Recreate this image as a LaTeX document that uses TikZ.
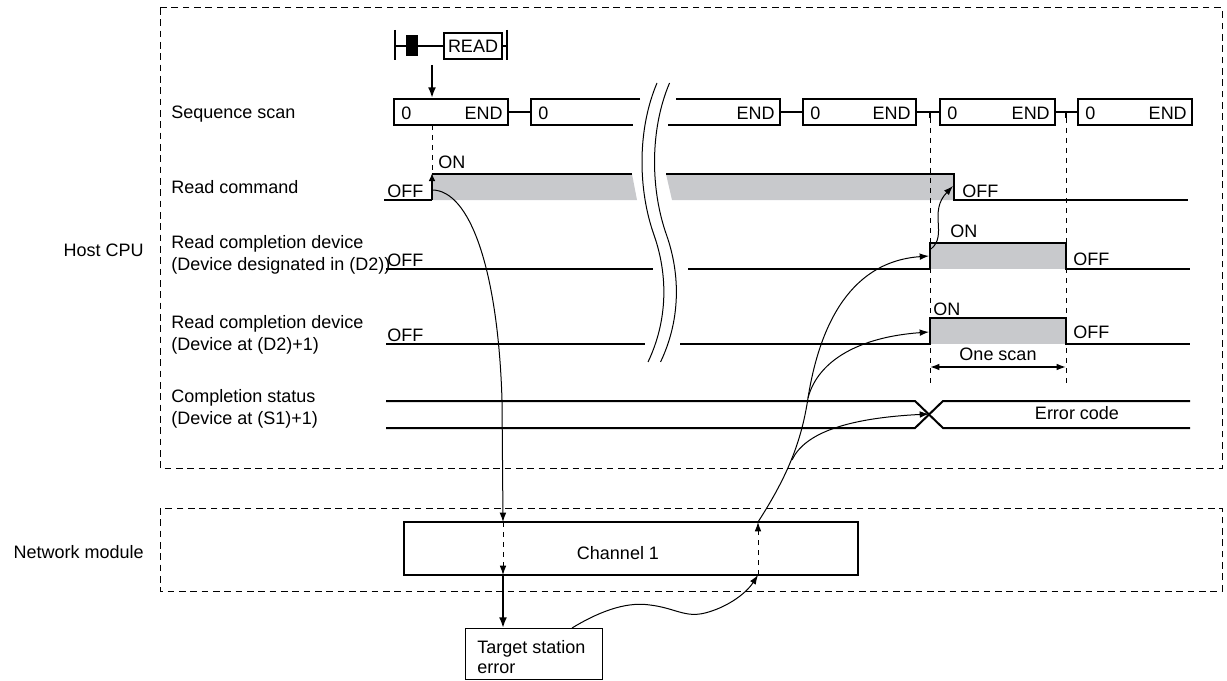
\documentclass[tikz,border=0pt]{standalone}
\usepackage{fontspec}
\setmainfont{Liberation Sans}
\usepackage{tikz}
\usetikzlibrary{arrows.meta,positioning}

\definecolor{sigfill}{RGB}{200,201,204}

\tikzset{
  lbl/.style={font=\fontsize{13.5}{16}\selectfont, inner sep=0pt},
  frame/.style={line width=0.75pt, dash pattern=on 5pt off 3.5pt},
  guide/.style={line width=0.75pt, dash pattern=on 4pt off 3.5pt},
  sig/.style={line width=1.5pt},
  scan/.style={line width=1pt},
  flow/.style={line width=0.75pt, -{Latex[length=7pt,width=5pt]}},
  boldflow/.style={line width=1.5pt, -{Latex[length=8pt,width=6pt]}},
}

\begin{document}
\begin{tikzpicture}[x=0.75pt,y=-0.75pt]
    \useasboundingbox (0,0) rectangle (1227,681);

    % dashed frames
    \draw[frame] (160,8) rectangle (1222,468);
    \draw[frame] (160,508) rectangle (1222,591);

    \node[lbl, anchor=base east] (host) at (144,256) {Host CPU};
    \node[lbl, anchor=base east] (netmod) at (144,558) {Network module};

    % row labels
    \node[lbl, anchor=base west] (seqlbl) at (171,119) {Sequence scan};
    \node[lbl, anchor=base west] (rclbl) at (171,194) {Read command};
    \node[lbl, anchor=base west] (dtwoa) at (171,248) {Read completion device};
    \node[lbl, anchor=base west] (dtwob) at (171,270) {(Device designated in (D2))};
    \node[lbl, anchor=base west] (dthreea) at (171,328) {Read completion device};
    \node[lbl, anchor=base west] (dthreeb) at (171,350) {(Device at (D2)+1)};
    \node[lbl, anchor=base west] (csa) at (171,402) {Completion status};
    \node[lbl, anchor=base west] (csb) at (171,424) {(Device at (S1)+1)};

    % ladder
    \draw[line width=1.2pt] (395,30) -- (395,60);
    \draw[line width=1.2pt] (507,30) -- (507,60);
    \fill (406,35) rectangle (418,56);
    \node[draw, lbl, line width=1pt, minimum width=43.5pt, minimum height=19.5pt] (readbox) at (473,46) {READ};
    \draw[line width=1.2pt] (395,46) -- (406,46);
    \draw[line width=1.2pt] (418,46) -- (readbox.west);
    \draw[line width=1.2pt] (readbox.east) -- (507,46);
    \coordinate (ladout) at (432,65);
    \coordinate (scanin) at (432,98);
    \draw[boldflow] (ladout) -- (scanin);

    % sequence scan
    \foreach \l/\r/\n in {394/508/a, 803/916/d, 940/1055/e, 1078/1192/f} {
        \draw[scan] (\l,99) rectangle (\r,125);
        \node[lbl, anchor=base west] (zero\n) at (\l+7,120) {0};
        \node[lbl, anchor=base east] (end\n) at (\r-5,120) {END};
    }
    \draw[scan] (640,99) -- (531,99) -- (531,125) -- (633,125);
    \node[lbl, anchor=base west] (zerob) at (538,120) {0};
    \draw[scan] (676,99) -- (780,99) -- (780,125) -- (668,125);
    \node[lbl, anchor=base east] (endc) at (775,120) {END};
    \foreach \a/\b in {508/531, 780/803, 916/940, 1055/1078}
        \draw[sig] (\a,112) -- (\b,112);
    \draw[sig] (930,112) -- (930,118);
    \draw[sig] (1066,112) -- (1066,118);

    % read command
    \fill[sigfill] (432,174) -- (632,174) -- (637,200) -- (432,200) -- cycle;
    \fill[sigfill] (666,174) -- (954,174) -- (954,200) -- (672,200) -- cycle;
    \draw[sig] (384,200) -- (432,200);
    \draw[sig] (432,174) -- (632,174);
    \draw[sig] (666,174) -- (954,174) -- (954,200) -- (1188,200);
    \draw[sig, -{Latex[length=6pt,width=5pt]}] (432,200) -- (432,173);

    % (D2)
    \fill[sigfill] (930,243) rectangle (1066,269);
    \draw[sig] (386,269) -- (653,269);
    \draw[sig] (688,269) -- (930,269) -- (930,243) -- (1066,243) -- (1066,269) -- (1190,269);

    % (D2)+1
    \fill[sigfill] (930,318) rectangle (1066,344);
    \draw[sig] (386,344) -- (645,344);
    \draw[sig] (680,344) -- (930,344) -- (930,318) -- (1066,318) -- (1066,344) -- (1190,344);

    % completion status
    \draw[sig] (386,401) -- (915,401) -- (943,428) -- (1190,428);
    \draw[sig] (386,428) -- (915,428) -- (943,401) -- (1190,401);
    \node[lbl, anchor=base] (errcode) at (1077,419) {Error code};

    % guides
    \draw[guide] (432,125) -- (432,174);
    \draw[guide] (930,118) -- (930,385);
    \draw[guide] (1066,118) -- (1066,385);
    \draw[line width=1.1pt, {Latex[length=7pt,width=5pt]}-{Latex[length=7pt,width=5pt]}] (930,367) -- (1066,367);
    \node[lbl, anchor=base] (onescan) at (998,360) {One scan};

    % ON / OFF
    \node[lbl, anchor=base west] (rcoff) at (387,197) {OFF};
    \node[lbl, anchor=base west] (rcon) at (438,168) {ON};
    \node[lbl, anchor=base west] (rcoffb) at (962,197) {OFF};
    \node[lbl, anchor=base west] (dtwooff) at (387,266) {OFF};
    \node[lbl, anchor=base west] (dtwoon) at (950,237) {ON};
    \node[lbl, anchor=base west] (dtwooffb) at (1073,265) {OFF};
    \node[lbl, anchor=base west] (dthreeoff) at (387,341) {OFF};
    \node[lbl, anchor=base west] (dthreeon) at (933,315) {ON};
    \node[lbl, anchor=base west] (dthreeoffb) at (1073,338) {OFF};

    % break marks
    \draw[line width=0.75pt] (657,83) .. controls (637,130) and (638,190) .. (654,235)
        .. controls (668,275) and (668,320) .. (648,362);
    \draw[line width=0.75pt, xshift=9.4pt] (657,83) .. controls (637,130) and (638,190) .. (654,235)
        .. controls (668,275) and (668,320) .. (648,362);

    % network module
    \node[draw, line width=1pt, minimum width=340.5pt, minimum height=39.75pt] (ch1) at (631,548.5) {};
    \node[lbl, anchor=base] (ch1txt) at (618,559) {Channel 1};
    \node[draw, line width=1pt, minimum width=102.75pt, minimum height=38.25pt, anchor=north west] (tse) at (465,628) {};
    \node[lbl, anchor=base west] (tsea) at (477,653) {Target station};
    \node[lbl, anchor=base west] (tseb) at (477,673) {error};

    % flows
    \coordinate (rcrise) at (432,190);
    \coordinate (chin) at (503,522);
    \coordinate (chout) at (503,575);
    \coordinate (chback) at (758,575);
    \coordinate (chup) at (758,522);
    \coordinate (forkb) at (808,398);
    \coordinate (forkc) at (792,460);
    \coordinate (dtworise) at (929,256);
    \coordinate (dthreerise) at (929,332);
    \coordinate (cscross) at (929,414);
    \coordinate (rcfall) at (953,186);

    \draw[flow] (rcrise) .. controls (470,190) and (498,270) .. (502,400) -- (chin);
    \draw[guide, -{Latex[length=7pt,width=5pt]}] (chin) -- (chout);
    \draw[boldflow] (chout) -- (tse.north -| chout);
    \draw[flow] (tse.north -| 572,0) .. controls (605,608) and (630,602) .. (650,605)
        .. controls (675,608) and (685,618) .. (705,613)
        .. controls (725,608) and (745,595) .. (chback);
    \draw[guide, -{Latex[length=7pt,width=5pt]}] (chback) -- (chup);
    \draw[flow] (chup) .. controls (785,480) and (801,445) .. (forkb)
        .. controls (818,335) and (845,262) .. (dtworise);
    \draw[flow] (forkb) .. controls (818,360) and (860,337) .. (dthreerise);
    \draw[flow] (forkc) .. controls (805,432) and (850,418) .. (cscross);
    \draw[flow] (931,249) .. controls (948,235) and (928,212) .. (rcfall);
\end{tikzpicture}
\end{document}
